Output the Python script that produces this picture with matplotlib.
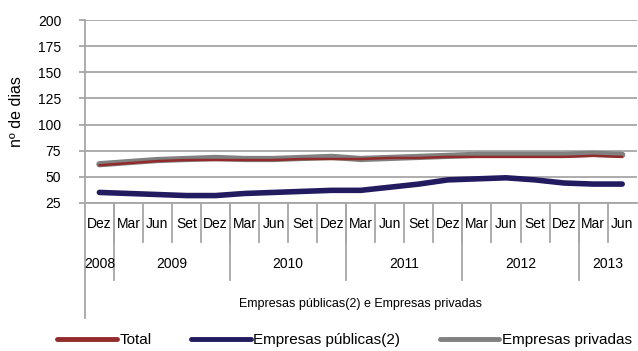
import matplotlib
matplotlib.use("Agg")
import matplotlib.pyplot as plt
import matplotlib.transforms as mtransforms
from matplotlib.lines import Line2D

plt.rcParams['font.family'] = ['Liberation Sans', 'DejaVu Sans']

months = ["Dez", "Mar", "Jun", "Set", "Dez", "Mar", "Jun", "Set", "Dez",
          "Mar", "Jun", "Set", "Dez", "Mar", "Jun", "Set", "Dez", "Mar", "Jun"]
years = ["2008", "2009", "2010", "2011", "2012", "2013"]
year_counts = [1, 4, 4, 4, 4, 2]

total = [61, 63, 65, 66, 66, 66, 66, 67, 67, 67, 68, 68, 69, 69, 69, 69, 69, 70, 69]
publicas = [35, 34, 33, 32, 32, 34, 35, 36, 37, 37, 40, 43, 47, 48, 49, 47, 44, 43, 43]
privadas = [62, 64, 66, 67, 68, 67, 67, 68, 69, 67, 68, 69, 70, 71, 71, 71, 71, 72, 71]

fig = plt.figure(figsize=(6.38, 3.51), dpi=100)
ax = fig.add_axes([0.133, 0.422, 0.865, 0.521])

x = list(range(len(months)))
grid_c = "#a6a6a6"
ax.plot(x, privadas, color="#808080", lw=4.5, solid_capstyle="round", zorder=3)
ax.plot(x, total, color="#922b2b", lw=1.8, solid_capstyle="round", zorder=4)
ax.plot(x, publicas, color="#221b5f", lw=4, solid_capstyle="round", zorder=3)

ax.set_xlim(-0.5, len(months) - 0.5)
ax.set_ylim(25, 200)
ax.set_yticks(range(25, 201, 25))
ax.yaxis.grid(True, color=grid_c, lw=1.3)
ax.set_axisbelow(True)
for s in ["top", "right"]:
    ax.spines[s].set_visible(False)
ax.spines["left"].set_color(grid_c)
ax.spines["left"].set_linewidth(1.3)
ax.spines["bottom"].set_color(grid_c)
ax.spines["bottom"].set_linewidth(1.3)
ax.tick_params(axis="y", colors=grid_c, labelcolor="black", labelsize=10, length=4, width=1.3, pad=13)
ax.set_xticks([])
ax.set_ylabel("nº de dias", fontsize=11.5, labelpad=10)

trans = mtransforms.blended_transform_factory(ax.transData, ax.transAxes)
h = 183.0  # axes height in px
def yf(px):
    return -px / h

# month labels and separators
for i, m in enumerate(months):
    ax.text(i, yf(21), m, transform=trans, ha="center", va="center", fontsize=10, clip_on=False)
for i in range(1, len(months)):
    ax.add_line(Line2D([i - 0.5, i - 0.5], [0, yf(39)], transform=trans, color=grid_c, lw=1.3, clip_on=False))

# year labels and separators
start = 0
for yr, c in zip(years, year_counts):
    ax.text(start + (c - 1) / 2, yf(61), yr, transform=trans, ha="center", va="center", fontsize=10, clip_on=False)
    start += c
    if start < len(months):
        ax.add_line(Line2D([start - 0.5, start - 0.5], [0, yf(77)], transform=trans, color=grid_c, lw=1.3, clip_on=False))

# left axis extension
ax.add_line(Line2D([-0.5, -0.5], [0, yf(115)], transform=trans, color=grid_c, lw=1.3, clip_on=False))

ax.text(0.5, yf(101), "Empresas públicas(2) e Empresas privadas", transform=ax.transAxes,
        ha="center", va="center", fontsize=9, clip_on=False)

handles = [Line2D([], [], color="#922b2b", lw=3.5, solid_capstyle="round"),
           Line2D([], [], color="#221b5f", lw=3.5, solid_capstyle="round"),
           Line2D([], [], color="#808080", lw=3.5, solid_capstyle="round")]
fig.legend(handles, ["Total", "Empresas públicas(2)", "Empresas privadas"],
           loc="center", bbox_to_anchor=(0.54, 0.03), ncol=3, frameon=False,
           fontsize=11, handlelength=3.9, handletextpad=0.15, columnspacing=2.6)

fig.savefig("out.png", dpi=100)
